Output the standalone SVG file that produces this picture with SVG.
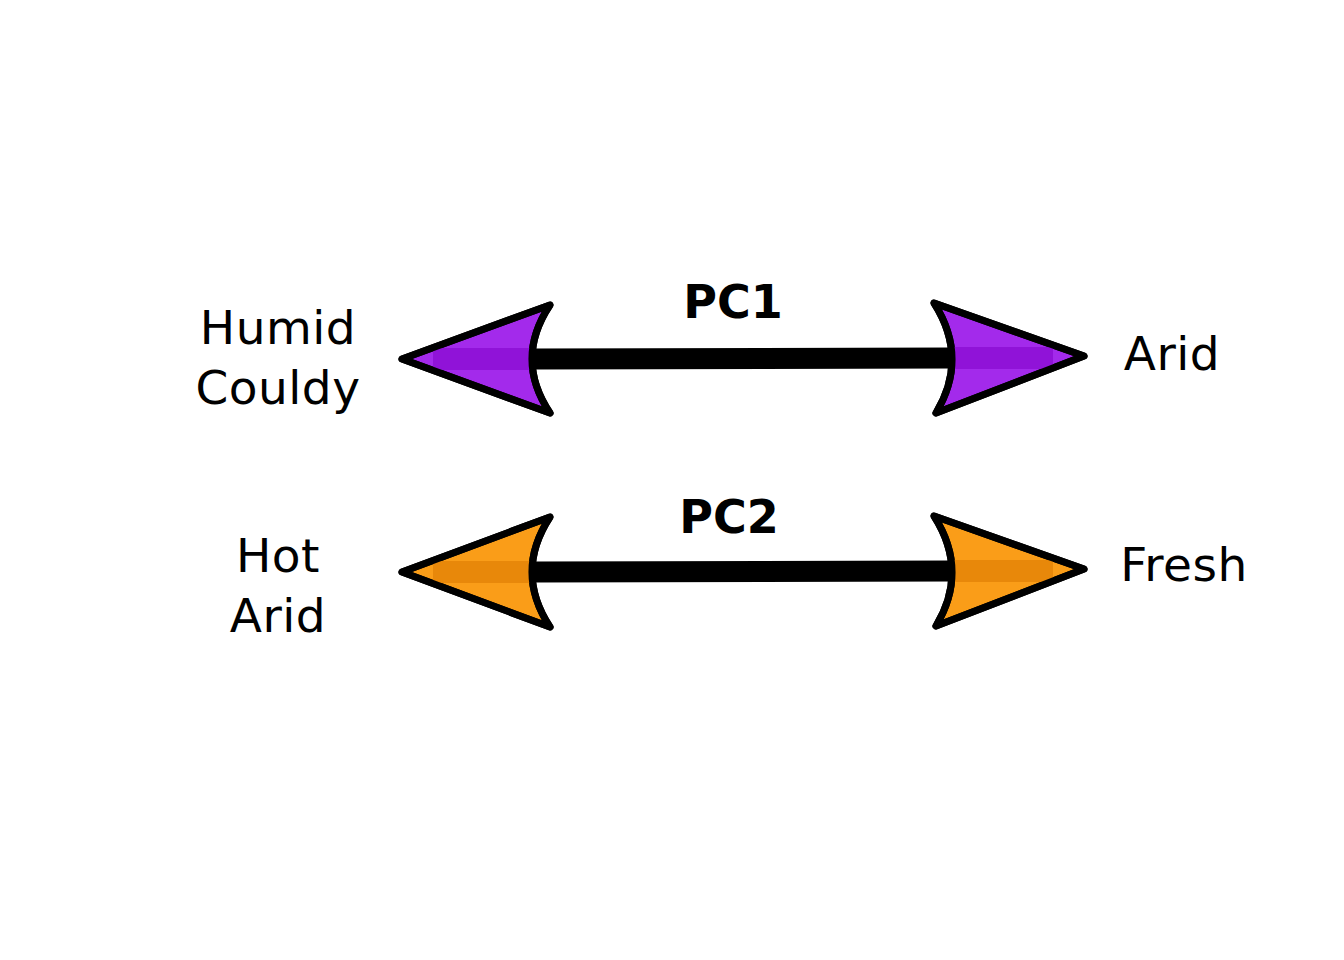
<svg xmlns="http://www.w3.org/2000/svg" width="1344" height="960" viewBox="0 0 1344 960">
<style>
.lbl{font-family:"DejaVu Sans","Verdana",sans-serif;font-size:47px;letter-spacing:0.5px;fill:#000;text-anchor:middle}
.title{font-family:"DejaVu Sans","Verdana",sans-serif;font-size:46px;font-weight:bold;fill:#000;text-anchor:middle}
.head{stroke:#000;stroke-width:7;stroke-linejoin:round}
.shaft{stroke:#000;stroke-width:21;fill:none}
.p{fill:#A32AEB}.pd{fill:#9013D8}
.o{fill:#FA9D18}.od{fill:#E8880A}
</style>
<rect width="1344" height="960" fill="#fff"/>
<g id="connectors">
<g id="pc1-arrow">
<line class="shaft" x1="535" y1="359" x2="952" y2="358"/>
<path class="head p" d="M402 359 L550 305 Q514 359 550 413 Z"/>
<rect class="pd" x="433" y="348" width="100" height="22"/>
<path class="head" fill="none" d="M402 359 L550 305 Q514 359 550 413 Z"/>
<path class="head p" d="M1084 356 L934 303 Q969 358 936 413 Z"/>
<rect class="pd" x="951" y="347" width="102" height="22"/>
<path class="head" fill="none" d="M1084 356 L934 303 Q969 358 936 413 Z"/>
</g>
<g id="pc2-arrow">
<line class="shaft" x1="535" y1="572" x2="952" y2="571"/>
<path class="head o" d="M402 572 L550 517 Q514 572 550 627 Z"/>
<rect class="od" x="433" y="561" width="100" height="22"/>
<path class="head" fill="none" d="M402 572 L550 517 Q514 572 550 627 Z"/>
<path class="head o" d="M1084 569 L934 516 Q969 571 936 626 Z"/>
<rect class="od" x="951" y="560" width="102" height="22"/>
<path class="head" fill="none" d="M1084 569 L934 516 Q969 571 936 626 Z"/>
</g>
</g>
<g id="pc1-label"><text class="title" x="733" y="318">PC1</text></g>
<g id="pc2-label"><text class="title" x="729" y="533">PC2</text></g>
<g id="humid-couldy"><text class="lbl" x="278" y="344">Humid</text><text class="lbl" x="278" y="404">Couldy</text></g>
<g id="arid-right"><text class="lbl" x="1172" y="370">Arid</text></g>
<g id="hot-arid"><text class="lbl" x="278" y="572">Hot</text><text class="lbl" x="278" y="632">Arid</text></g>
<g id="fresh"><text class="lbl" x="1184" y="581">Fresh</text></g>
</svg>
